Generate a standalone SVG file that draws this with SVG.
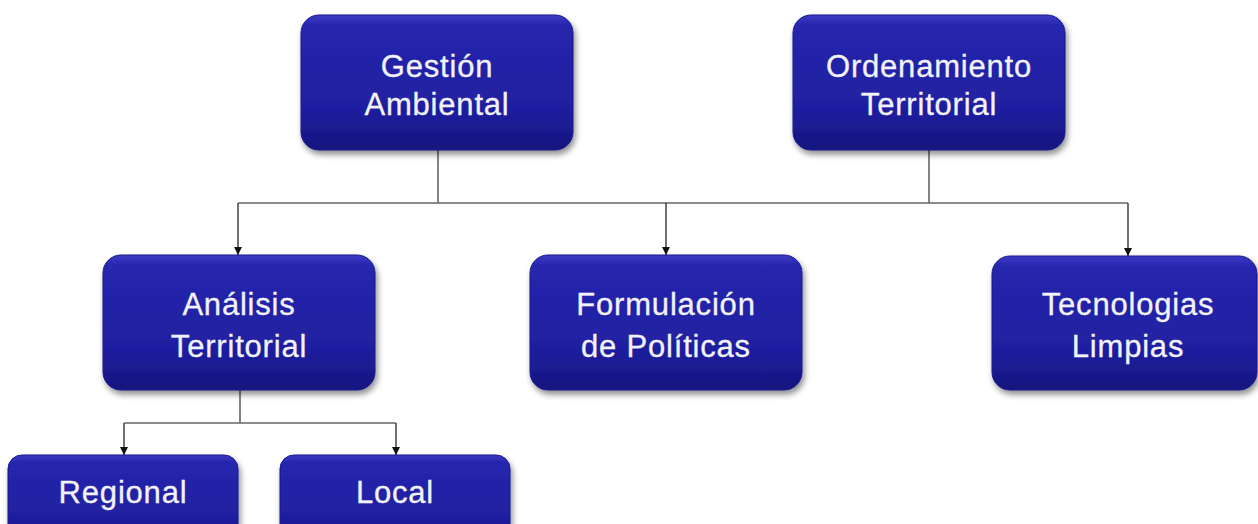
<svg xmlns="http://www.w3.org/2000/svg" width="1258" height="524" viewBox="0 0 1258 524">
<defs>
<linearGradient id="g" x1="0" y1="0" x2="0" y2="1">
<stop offset="0" stop-color="#3a3ac4"/>
<stop offset="0.08" stop-color="#2626ae"/>
<stop offset="0.7" stop-color="#1f1fa0"/>
<stop offset="1" stop-color="#15157e"/>
</linearGradient>
<filter id="sh" x="-10%" y="-10%" width="125%" height="130%">
<feGaussianBlur in="SourceAlpha" stdDeviation="3"/>
<feOffset dx="2" dy="4" result="b"/>
<feComponentTransfer><feFuncA type="linear" slope="0.45"/></feComponentTransfer>
<feMerge><feMergeNode/><feMergeNode in="SourceGraphic"/></feMerge>
</filter>
<marker id="ah" markerWidth="10" markerHeight="10" refX="9" refY="5" orient="auto" markerUnits="userSpaceOnUse" viewBox="0 0 10 10">
<path d="M1,1 L9,5 L1,9 Z" fill="#111"/>
</marker>
</defs>
<style>
.box{fill:url(#g);stroke:#1a1a8a;stroke-width:1;filter:url(#sh)}
.t{font-family:"Liberation Sans",Arial,sans-serif;font-size:31px;fill:#f2f2f8;text-anchor:middle;letter-spacing:0.8px;stroke:#f2f2f8;stroke-width:0.3}
.c{fill:none;stroke:#666;stroke-width:1.6}
.a{fill:none;stroke:#333;stroke-width:1.4}
</style>
<rect width="1258" height="524" fill="#ffffff"/>
<g id="connectors">
<path class="c" d="M438,150 V203 M929,150 V203 M238,203 H1128"/>
<path class="a" d="M238,203 V255" marker-end="url(#ah)"/>
<path class="a" d="M666,203 V255" marker-end="url(#ah)"/>
<path class="a" d="M1128,203 V256" marker-end="url(#ah)"/>
<path class="c" d="M240,390 V423 M124,423 H396"/>
<path class="a" d="M124,423 V455" marker-end="url(#ah)"/>
<path class="a" d="M396,423 V455" marker-end="url(#ah)"/>
</g>
<g id="gestion">
<rect class="box" x="301" y="15" width="272" height="135" rx="18"/>
<text class="t" x="437" y="77">Gestión</text>
<text class="t" x="437" y="115">Ambiental</text>
</g>
<g id="ordenamiento">
<rect class="box" x="793" y="15" width="272" height="135" rx="18"/>
<text class="t" x="929" y="77">Ordenamiento</text>
<text class="t" x="929" y="115">Territorial</text>
</g>
<g id="analisis">
<rect class="box" x="103" y="255" width="272" height="135" rx="18"/>
<text class="t" x="239" y="315">Análisis</text>
<text class="t" x="239" y="357">Territorial</text>
</g>
<g id="formulacion">
<rect class="box" x="530" y="255" width="272" height="135" rx="18"/>
<text class="t" x="666" y="315">Formulación</text>
<text class="t" x="666" y="357">de Políticas</text>
</g>
<g id="tecnologias">
<rect class="box" x="992" y="256" width="265" height="134" rx="18"/>
<text class="t" x="1128" y="315">Tecnologias</text>
<text class="t" x="1128" y="357">Limpias</text>
</g>
<g id="regional">
<rect class="box" x="8" y="455" width="230" height="90" rx="14"/>
<text class="t" x="123" y="503">Regional</text>
</g>
<g id="local">
<rect class="box" x="280" y="455" width="230" height="90" rx="14"/>
<text class="t" x="395" y="503">Local</text>
</g>
</svg>
